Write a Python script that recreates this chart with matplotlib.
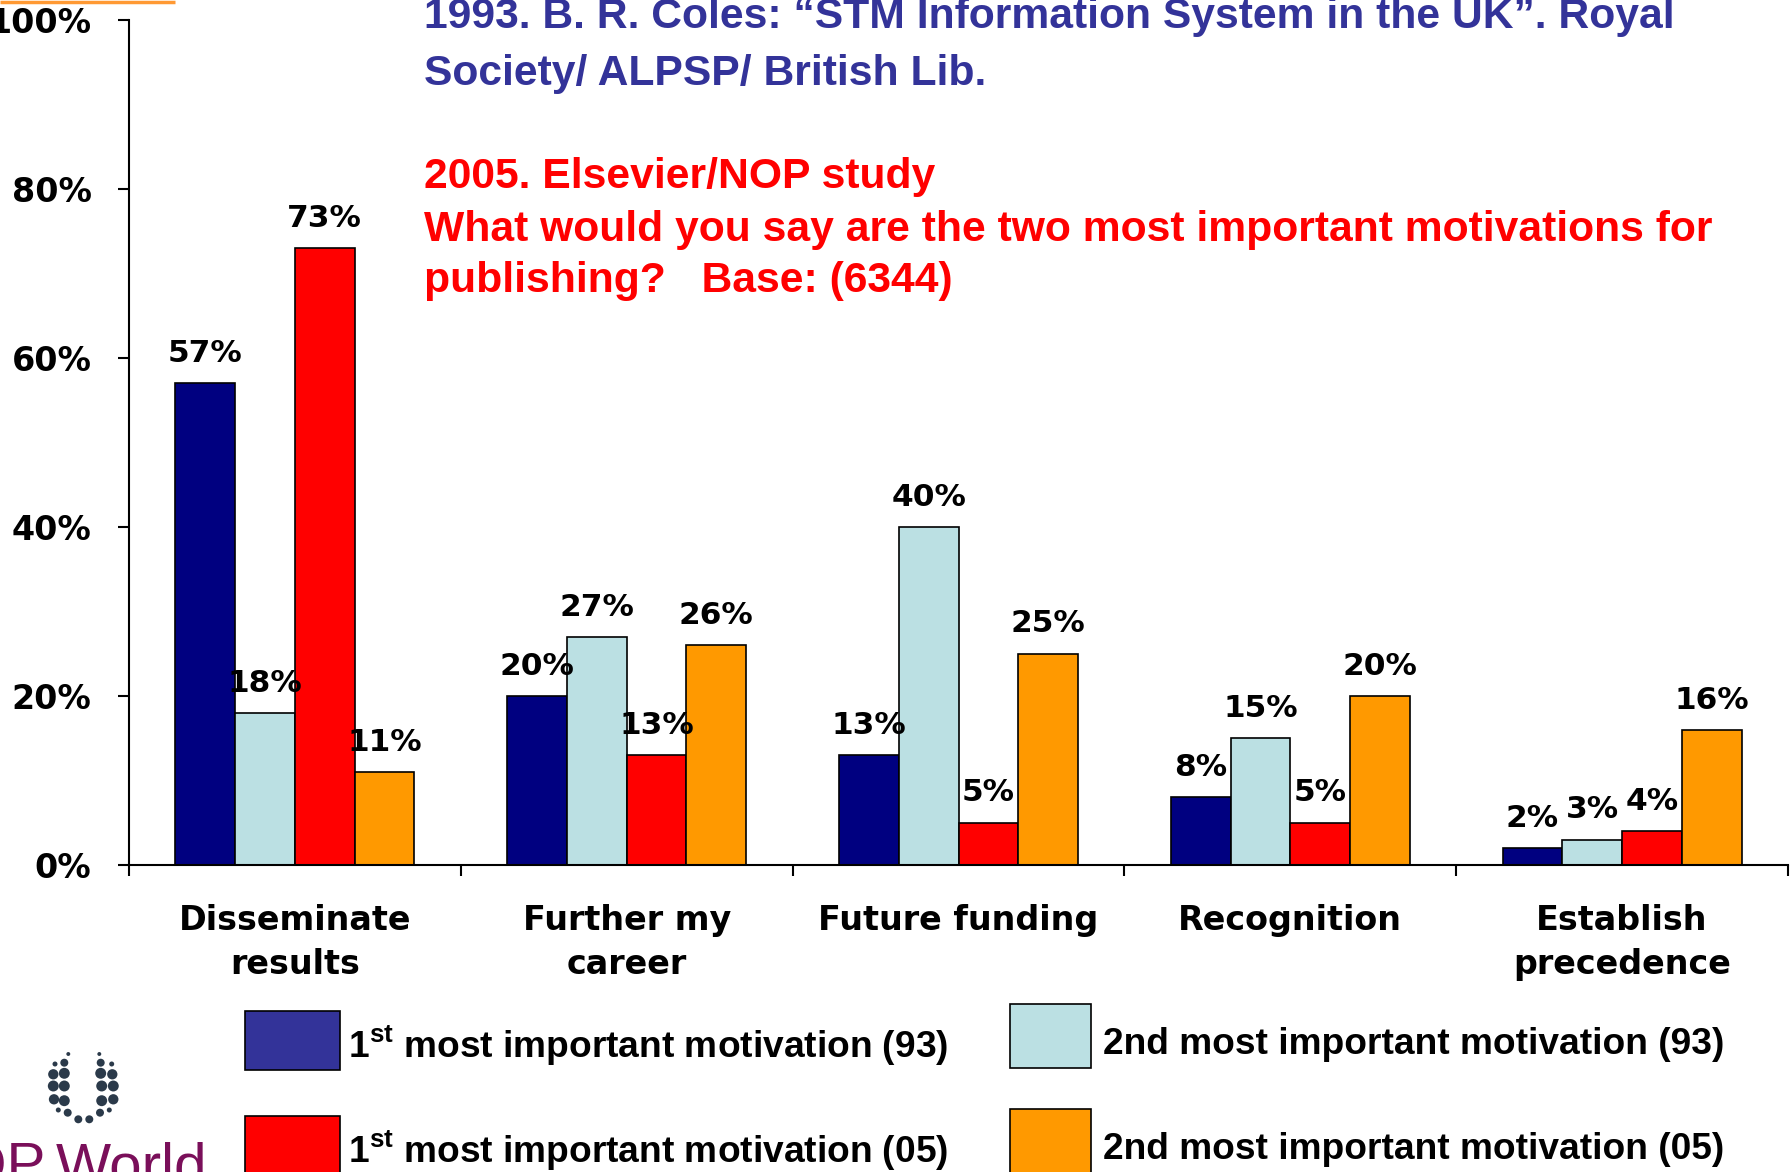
import numpy as np
import matplotlib
matplotlib.use("Agg")
import matplotlib.pyplot as plt
from matplotlib.patches import Patch
from matplotlib.font_manager import FontProperties
from matplotlib.transforms import ScaledTranslation

# ------------------------------------------------------------
# Data (in percent)
# ------------------------------------------------------------
categories = ["Disseminate\nresults", "Further my\ncareer", "Future funding",
              "Recognition", "Establish\nprecedence"]
first_93 = [57, 20, 13, 8, 2]
second_93 = [18, 27, 40, 15, 3]
first_05 = [73, 13, 5, 5, 4]
second_05 = [11, 26, 25, 20, 16]

series = [first_93, second_93, first_05, second_05]
bar_colors = ["#000080", "#BBE0E3", "#FF0000", "#FF9900"]
legend_colors = ["#333399", "#BBE0E3", "#FF0000", "#FF9900"]
legend_labels = [r"1$^{\mathbf{st}}$ most important motivation (93)",
                 "2nd most important motivation (93)",
                 r"1$^{\mathbf{st}}$ most important motivation (05)",
                 "2nd most important motivation (05)"]
y_ticks = [0, 20, 40, 60, 80, 100]

title_blue = ["1993. B. R. Coles: \u201cSTM Information System in the UK\u201d. Royal",
              "Society/ ALPSP/ British Lib."]
title_red = ["2005. Elsevier/NOP study",
             "What would you say are the two most important motivations for",
             "publishing?   Base: (6344)"]

plt.rcParams["mathtext.fontset"] = "custom"
plt.rcParams["mathtext.bf"] = "Liberation Sans:bold"
plt.rcParams["mathtext.rm"] = "Liberation Sans:bold"

W, H = 1791, 1172
fig = plt.figure(figsize=(W / 100, H / 100), dpi=100)

# ------------------------------------------------------------
# Bars
# ------------------------------------------------------------
ax = fig.add_axes([129 / W, 1 - 865 / H, (1788 - 129) / W, 845 / H])
x = np.arange(len(categories))
width = 0.18
offsets = (np.arange(4) - 1.5) * width

for vals, col, off in zip(series, bar_colors, offsets):
    bars = ax.bar(x + off, vals, width, color=col, edgecolor="black", linewidth=1.2)
    ax.bar_label(bars, labels=[f"{v}%" for v in vals], padding=11,
                 fontsize=22.5, fontweight="bold", family="DejaVu Sans")

ax.set_xlim(-0.5, len(categories) - 0.5)
ax.set_ylim(0, 100)
ax.set_yticks(y_ticks)
ax.set_yticklabels([f"{t}%" for t in y_ticks], fontsize=24, fontweight="bold",
                   family="DejaVu Sans")
ax.tick_params(axis="y", length=8, width=1.5, pad=19)

# boundaries get the tick marks, centres get the labels
ax.set_xticks(np.arange(len(categories) + 1) - 0.5)
ax.set_xticklabels([])
ax.set_xticks(x, minor=True)
ax.set_xticklabels(categories, minor=True, fontsize=24, fontweight="bold",
                   family="DejaVu Sans", linespacing=1.44)
ax.tick_params(axis="x", which="major", length=8, width=1.5)
ax.tick_params(axis="x", which="minor", length=0, pad=28)

for side in ["top", "right"]:
    ax.spines[side].set_visible(False)
for side in ["left", "bottom"]:
    ax.spines[side].set_linewidth(1.5)

# ------------------------------------------------------------
# Titles
# ------------------------------------------------------------
for line, base in zip(title_blue, [28, 85]):
    fig.text(424 / W, 1 - base / H, line, color="#333399", fontsize=30.7,
             fontweight="bold", family="Liberation Sans", va="baseline")
for line, base in zip(title_red, [188, 241, 292]):
    fig.text(424 / W, 1 - base / H, line, color="#FF0000", fontsize=30.7,
             fontweight="bold", family="Liberation Sans", va="baseline")

# ------------------------------------------------------------
# Legend (two columns, placed by hand)
# ------------------------------------------------------------
handles = [Patch(facecolor=c, edgecolor="black", linewidth=1.2) for c in legend_colors]
prop = FontProperties(family="Liberation Sans", weight="bold", size=26.7)
leg1 = fig.legend([handles[0], handles[2]], [legend_labels[0], legend_labels[2]],
                  loc="upper left", bbox_to_anchor=(245 / W, 1 - 1011 / H),
                  frameon=False, borderpad=0, borderaxespad=0, handlelength=2.57,
                  handleheight=2.07, handletextpad=0.22, labelspacing=1.24, prop=prop)
leg2 = fig.legend([handles[1], handles[3]], [legend_labels[1], legend_labels[3]],
                  loc="upper left", bbox_to_anchor=(1010 / W, 1 - 1004 / H),
                  frameon=False, borderpad=0, borderaxespad=0, handlelength=2.19,
                  handleheight=2.28, handletextpad=0.32, labelspacing=1.1, prop=prop)
# nudge legend labels down a little so they sit level with the boxes
nudge = ScaledTranslation(0, -4.5 / 72, fig.dpi_scale_trans)
for leg in (leg1, leg2):
    for t in leg.get_texts():
        t.set_transform(t.get_transform() + nudge)

# ------------------------------------------------------------
# Slide decoration: orange rule and NOP World logo
# ------------------------------------------------------------
deco = fig.add_axes([0, 0, 1, 1], zorder=-1)
deco.set_xlim(0, W)
deco.set_ylim(H, 0)
deco.axis("off")
deco.plot([0, 175], [1.5, 1.5], color="#FF9933", linewidth=2.5, solid_capstyle="butt")

logo_x = [68.3, 99.3, 55, 64.3, 100.7, 111.7, 53.3, 64.3, 100.7, 112.3,
          53.3, 64.3, 101.7, 113.3, 54, 64.3, 101.7, 113.3,
          58.3, 67.7, 100, 109.3, 78.3, 89.3]
logo_y = [1054, 1054, 1064, 1062.7, 1062.7, 1064, 1074.3, 1073.3, 1073.3, 1074.3,
          1086, 1086, 1086, 1086, 1099.3, 1100.7, 1100.7, 1099.3,
          1110, 1112.7, 1112.7, 1110, 1119.3, 1119.3]
logo_s = [8, 8, 13, 33, 33, 13, 55, 62, 62, 55,
          62, 62, 62, 62, 55, 62, 62, 55,
          13, 33, 33, 13, 33, 33]
deco.scatter(logo_x, logo_y, s=logo_s, color="#2B3A4A", linewidths=0)
deco.text(207, 1184, "World", color="#7A0F5A", fontsize=42,
          family="Liberation Sans", ha="right", va="baseline", clip_on=False)
deco.text(46, 1184, "NOP", color="#7A0F5A", fontsize=42,
          family="Liberation Sans", ha="right", va="baseline", clip_on=False)

fig.savefig("out.png", dpi=100)
